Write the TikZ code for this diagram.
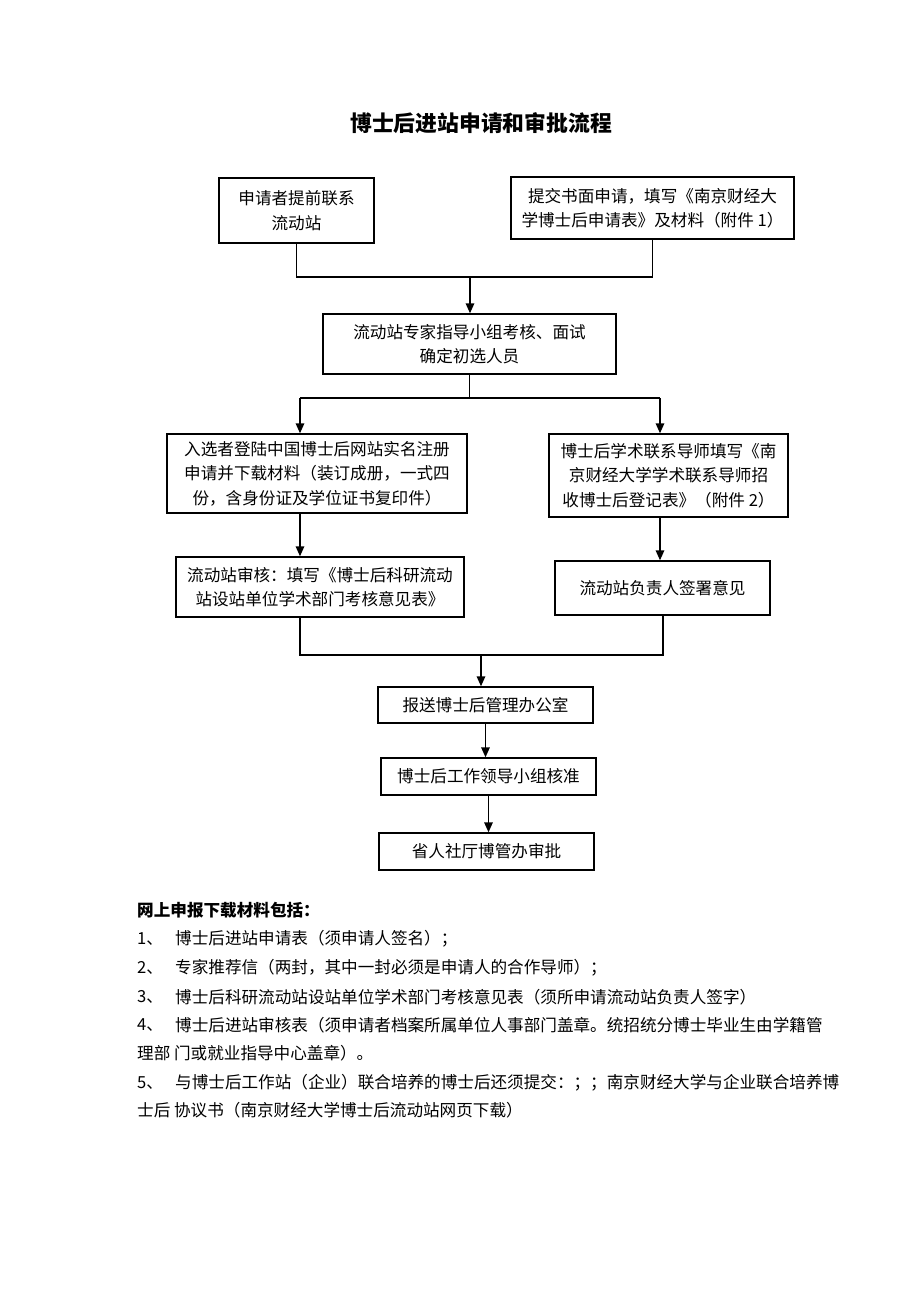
\documentclass[tikz,border=0pt]{standalone}
\usepackage{fontspec}
\setmainfont{Noto Sans CJK SC}
\usetikzlibrary{arrows.meta}

\tikzset{
  box/.style={draw, line width=1.4pt, inner sep=0pt, align=center,
    font=\fontsize{16.6}{24.5}\selectfont},
  flow/.style={line width=1.6pt},
  arr/.style={flow, -{Triangle[length=10pt,width=8.5pt]}},
  txt/.style={anchor=west, inner sep=0pt, font=\fontsize{16.6}{20}\selectfont}
}

\begin{document}
\begin{tikzpicture}[x=1pt,y=-1pt]
\useasboundingbox (0,0) rectangle (920,1302);

\node[font=\fontsize{21.8}{26}\selectfont\bfseries] (title) at (481,123) {博士后进站申请和审批流程};

% boxes
\node[box, minimum width=155, minimum height=65] (contact) at (296.5,210.5) {申请者提前联系\\流动站};
\node[box, minimum width=283, minimum height=62] (apply) at (652.5,208) {提交书面申请，填写《南京财经大\\学博士后申请表》及材料（附件 1）};
\node[box, minimum width=293, minimum height=60] (exam) at (469.5,344) {流动站专家指导小组考核、面试\\确定初选人员};
\node[box, minimum width=300, minimum height=79] (register) at (317,473.5) {入选者登陆中国博士后网站实名注册\\申请并下载材料（装订成册，一式四\\份，含身份证及学位证书复印件）};
\node[box, minimum width=239, minimum height=83] (tutor) at (668.5,475.5) {博士后学术联系导师填写《南\\京财经大学学术联系导师招\\收博士后登记表》（附件 2）};
\node[box, minimum width=288, minimum height=60] (review) at (320,587) {流动站审核：填写《博士后科研流动\\站设站单位学术部门考核意见表》};
\node[box, minimum width=215, minimum height=54] (sign) at (662.5,588) {流动站负责人签署意见};
\node[box, minimum width=215, minimum height=36] (report) at (485.5,705) {报送博士后管理办公室};
\node[box, minimum width=215, minimum height=37] (leader) at (488.5,776.5) {博士后工作领导小组核准};
\node[box, minimum width=215, minimum height=37] (approve) at (486.5,851.5) {省人社厅博管办审批};

% connectors
\coordinate (jtop) at (470,277);
\draw[flow] (contact.south) -- (contact.south |- jtop) -- (apply.south |- jtop) -- (apply.south);
\draw[arr] (jtop) -- (jtop |- exam.north);

\coordinate (sl) at (300,398);
\coordinate (sr) at (660,398);
\draw[flow] (exam.south) -- (exam.south |- sl);
\draw[flow] (sl) -- (sr);
\draw[arr] (sl) -- (sl |- register.north);
\draw[arr] (sr) -- (sr |- tutor.north);
\draw[arr] (sl |- register.south) -- (sl |- review.north);
\draw[arr] (sr |- tutor.south) -- (sr |- sign.north);

\coordinate (jl) at (300,655);
\coordinate (jr) at (663,655);
\coordinate (jm) at (481,655);
\draw[flow] (jl |- review.south) -- (jl) -- (jr) -- (jr |- sign.south);
\draw[arr] (jm) -- (jm |- report.north);
\draw[arr] (report.south) -- (report.south |- leader.north);
\draw[arr] (leader.south) -- (leader.south |- approve.north);

% list below
\node[txt, font=\fontsize{16.6}{20}\selectfont\bfseries] (head) at (137,910) {网上申报下载材料包括：};
\node[txt] (n1) at (137,939) {1、};
\node[txt] (t1) at (175,939) {博士后进站申请表（须申请人签名）；};
\node[txt] (n2) at (137,968) {2、};
\node[txt] (t2) at (175,968) {专家推荐信（两封，其中一封必须是申请人的合作导师）；};
\node[txt] (n3) at (137,997) {3、};
\node[txt] (t3) at (175,997) {博士后科研流动站设站单位学术部门考核意见表（须所申请流动站负责人签字）};
\node[txt] (n4) at (137,1025) {4、};
\node[txt] (t4) at (175,1025) {博士后进站审核表（须申请者档案所属单位人事部门盖章。统招统分博士毕业生由学籍管};
\node[txt] (t4b) at (137,1053) {理部 门或就业指导中心盖章）。};
\node[txt] (n5) at (137,1083) {5、};
\node[txt] (t5) at (175,1083) {与博士后工作站（企业）联合培养的博士后还须提交：；；南京财经大学与企业联合培养博};
\node[txt] (t5b) at (137,1110) {士后 协议书（南京财经大学博士后流动站网页下载）};
\end{tikzpicture}
\end{document}
